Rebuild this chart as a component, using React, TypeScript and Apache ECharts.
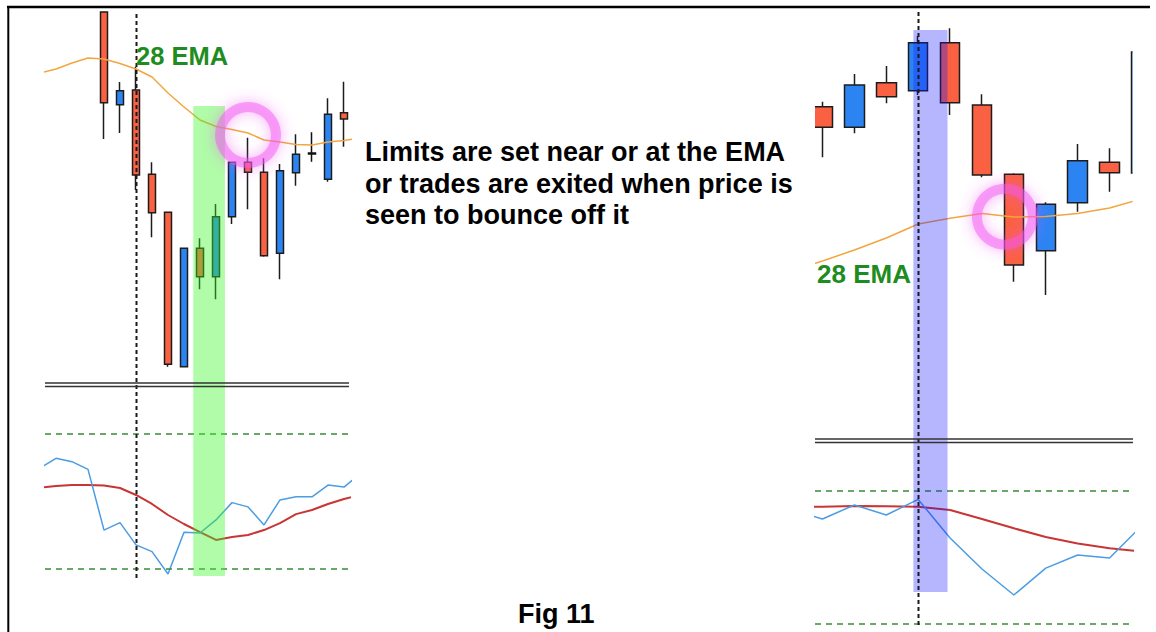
import React, { useEffect, useRef } from "react";
import * as echarts from "echarts";

// ---------- LEFT PANEL (bar index i; i = 0 sits just left of the panel) ----------
const leftCandleIdx = [4, 5, 6, 7, 8, 9, 10, 11, 12, 13, 14, 15, 16, 17, 18, 19];
// [open, close, low, high]
const leftCandles = [
  [388, 297.3, 261, 388],
  [295.3, 309.3, 267, 318],
  [310, 225, 210, 333.3],
  [225.7, 187.3, 162.7, 237.7],
  [187.7, 35.7, 33.3, 188],
  [33.3, 151.7, 33, 152],
  [151.7, 123.3, 110.7, 161.7],
  [123.3, 183.3, 100.7, 196],
  [183.3, 237.7, 176, 238],
  [237.7, 227.7, 190.7, 262.3],
  [227.7, 144.3, 143.3, 241.7],
  [146.7, 229.3, 120.7, 236],
  [227.3, 245.7, 214.3, 265.7],
  [247, 246, 238.3, 267.7],
  [220.7, 285.7, 218.3, 301.7],
  [287.3, 281, 253.3, 318.3],
];
const leftDojiIdx = 17;
const leftEma = [327, 331, 337, 342, 341, 336.5, 331, 323, 307, 293, 280, 273.5, 270.5, 267, 260, 258, 255.5, 255, 258, 259.5, 262];
const leftStochK = [64.9, 69.2, 67.7, 64.3, 37.3, 40.6, 30.7, 27.7, 17.8, 36.3, 36.0, 41.8, 49.5, 47.6, 39.6, 50.7, 52.1, 52.1, 57.3, 56.4, 62.2];
const leftStochD = [56.2, 56.9, 57.3, 57.3, 57.1, 56.0, 52.9, 48.9, 44.0, 40.0, 36.4, 32.9, 34.2, 35.1, 37.3, 40.4, 44.4, 46.2, 48.9, 51.1, 52.9];
const leftSignalBar = 6;
const leftBand = [9.58, 11.56];
const leftCircle = [13, 265];

// ---------- RIGHT PANEL (bar index j; j = 0 sits just left of the panel) ----------
const rightCandleIdx = [1, 2, 3, 4, 5, 6, 7, 8, 9, 10, 11];
const rightCandles = [
  [293.3, 272.7, 242.7, 298.3],
  [272.7, 315, 266.7, 326],
  [317.3, 303.3, 296.7, 334],
  [309.3, 357.3, 305, 364],
  [357.3, 297.3, 285, 371.7],
  [295, 225, 222.7, 305.7],
  [225.7, 135, 118.3, 226.7],
  [149.3, 195.7, 105, 197.7],
  [197.3, 239.3, 188.3, 256],
  [237.7, 227.3, 208.3, 251.7],
  [227, 348, 227, 348],
];
const rightEma = [129, 139, 150, 162, 176, 181.7, 186.5, 183, 183.5, 186.5, 192, 201];
const rightStochK = [71.3, 67.3, 73.6, 69.1, 76.1, 58.7, 44.8, 33.1, 45.2, 51.1, 49.7, 64.1];
const rightStochD = [72.7, 72.8, 73.1, 73.0, 72.8, 71.3, 67.3, 63.1, 59.2, 56.3, 54.1, 52.7];
const rightSignalBar = 4;
const rightBand = [3.85, 4.92];
const rightCircle = [6.72, 183.3];

const stochLevels = [80, 20];

const UP = "#2C84F2";
const DOWN = "#FA6142";
const EDGE = "#1c1c1c";
const EMA_C = "#F2A640";
const K_C = "#4B9CE2";
const D_C = "#C93434";
const GREEN_TXT = "#1E8C1E";
const FONT = "'Liberation Sans', Arial, sans-serif";

function candleData(idx: number[], vals: number[][], dojiBar?: number) {
  return vals.map((v, k) => {
    const item: any = { value: [idx[k], ...v] };
    if (dojiBar !== undefined && idx[k] === dojiBar) {
      item.itemStyle = { color: "#111", color0: "#111", borderColor: "#111", borderColor0: "#111" };
    }
    return item;
  });
}
const pairs = (arr: number[]) => arr.map((v, i) => [i, v]);

function candleSeries(xi: number, yi: number, data: any[], w: number) {
  return {
    type: "candlestick",
    xAxisIndex: xi,
    yAxisIndex: yi,
    barWidth: w,
    z: 2,
    data,
    itemStyle: { color: UP, color0: DOWN, borderColor: EDGE, borderColor0: EDGE, borderWidth: 1.5 },
  };
}
function lineSeries(xi: number, yi: number, data: number[], color: string, width: number, z = 4) {
  return {
    type: "line",
    xAxisIndex: xi,
    yAxisIndex: yi,
    data: pairs(data),
    showSymbol: false,
    symbol: "none",
    z,
    lineStyle: { color, width },
  };
}
function levelLines() {
  return {
    silent: true,
    symbol: "none",
    label: { show: false },
    lineStyle: { color: "#3A8C3A", type: [6, 5], width: 1.5 },
    data: stochLevels.map((v) => ({ yAxis: v })),
  };
}
function glow(xi: number, yi: number, pt: number[]) {
  return {
    type: "scatter",
    xAxisIndex: xi,
    yAxisIndex: yi,
    z: 20,
    symbol: "circle",
    symbolSize: 56,
    data: [pt],
    itemStyle: {
      color: "rgba(0,0,0,0)",
      borderColor: "rgba(242,90,242,0.62)",
      borderWidth: 10,
      shadowBlur: 14,
      shadowColor: "rgba(242,80,242,0.95)",
    },
  };
}

export default function App() {
  const ref = useRef<HTMLDivElement>(null);
  useEffect(() => {
    document.body.style.margin = "0";
    const chart = echarts.init(ref.current!, null, { renderer: "svg" });
    const hiddenX = (min: number, max: number, gridIndex: number) => ({
      type: "value", gridIndex, min, max, show: false, splitLine: { show: false },
    });
    const hiddenY = (min: number, max: number, gridIndex: number) => ({
      type: "value", gridIndex, min, max, show: false, splitLine: { show: false }, scale: true,
    });
    const lMin = 0.3125, lMax = 19.375;
    const rMin = 0.765, rMax = 10.735;
    chart.setOption({
      animation: false,
      backgroundColor: "#ffffff",
      grid: [
        { left: 45, top: 10, width: 305, height: 370 },
        { left: 45, top: 389, width: 305, height: 225 },
        { left: 815, top: 10, width: 318, height: 420 },
        { left: 815, top: 446.3, width: 318, height: 185.7 },
      ],
      xAxis: [hiddenX(lMin, lMax, 0), hiddenX(lMin, lMax, 1), hiddenX(rMin, rMax, 2), hiddenX(rMin, rMax, 3)],
      yAxis: [hiddenY(20, 390, 0), hiddenY(0, 100, 1), hiddenY(-30, 390, 2), hiddenY(16.43, 100, 3)],
      series: [
        candleSeries(0, 0, candleData(leftCandleIdx, leftCandles, leftDojiIdx), 8),
        lineSeries(0, 0, leftEma, EMA_C, 1.5, 5),
        { ...lineSeries(1, 1, leftStochD, D_C, 2, 3), markLine: levelLines() },
        lineSeries(1, 1, leftStochK, K_C, 1.5, 4),
        glow(0, 0, leftCircle),
        candleSeries(2, 2, candleData(rightCandleIdx, rightCandles), 20),
        lineSeries(2, 2, rightEma, EMA_C, 1.5, 5),
        { ...lineSeries(3, 3, rightStochD, D_C, 2, 3), markLine: levelLines() },
        lineSeries(3, 3, rightStochK, K_C, 1.5, 4),
        glow(2, 2, rightCircle),
      ],
    });

    const px = (axis: number, v: number) => chart.convertToPixel({ xAxisIndex: axis }, v) as number;
    const lb0 = px(0, leftBand[0]), lb1 = px(0, leftBand[1]);
    const rb0 = px(2, rightBand[0]), rb1 = px(2, rightBand[1]);
    const lsx = Math.round(px(0, leftSignalBar)) + 0.5;
    const rsx = Math.round(px(2, rightSignalBar)) + 0.5;
    const sep = { stroke: "#333", lineWidth: 1.5 };
    const vdash = { stroke: "#1a1a1a", lineWidth: 2, lineDash: [4, 3] };
    const txt = (text: string, x: number, y: number, size: number, fill: string, lineHeight?: number) => ({
      type: "text",
      z: 30,
      x,
      y,
      style: {
        text,
        fill,
        font: `bold ${size}px ${FONT}`,
        verticalAlign: "top",
        align: "left",
        lineHeight: lineHeight ?? size,
      },
    });
    chart.setOption({
      graphic: [
        // clip partial candles at right/left edge of the right panel
        { type: "rect", z: 15, shape: { x: 1132.6, y: 9, width: 30, height: 425 }, style: { fill: "#fff" } },
        { type: "rect", z: 15, shape: { x: 806, y: 9, width: 9, height: 425 }, style: { fill: "#fff" } },
        // highlight bands
        { type: "rect", z: 10, shape: { x: lb0, y: 106, width: lb1 - lb0, height: 470 }, style: { fill: "rgba(57,247,37,0.4)" } },
        { type: "rect", z: 10, shape: { x: rb0, y: 30, width: rb1 - rb0, height: 562 }, style: { fill: "rgba(20,20,255,0.31)" } },
        // signal lines
        { type: "line", z: 12, shape: { x1: lsx, y1: 14, x2: lsx, y2: 581 }, style: vdash },
        { type: "line", z: 12, shape: { x1: rsx, y1: 12, x2: rsx, y2: 627 }, style: vdash },
        // panel separators
        { type: "line", z: 12, shape: { x1: 45, y1: 383, x2: 349, y2: 383 }, style: sep },
        { type: "line", z: 12, shape: { x1: 45, y1: 386.5, x2: 349, y2: 386.5 }, style: sep },
        { type: "line", z: 12, shape: { x1: 815, y1: 439, x2: 1133, y2: 439 }, style: sep },
        { type: "line", z: 12, shape: { x1: 815, y1: 442.5, x2: 1133, y2: 442.5 }, style: sep },
        // frame
        { type: "line", z: 40, shape: { x1: 7, y1: 7, x2: 1150, y2: 7 }, style: { stroke: "#000", lineWidth: 2.5 } },
        { type: "line", z: 40, shape: { x1: 8.3, y1: 6, x2: 8.3, y2: 632 }, style: { stroke: "#000", lineWidth: 2 } },
        // texts
        txt("28 EMA", 136, 43.5, 25.5, GREEN_TXT),
        txt("28 EMA", 817, 261, 26, GREEN_TXT),
        txt("Limits are set near or at the EMA\nor trades are exited when price is\nseen to bounce off it", 365, 136.5, 27, "#000", 31.5),
        txt("Fig 11", 518, 600, 27, "#000"),
      ],
    });
    return () => chart.dispose();
  }, []);
  return <div ref={ref} style={{ width: 1156, height: 632 }} />;
}
